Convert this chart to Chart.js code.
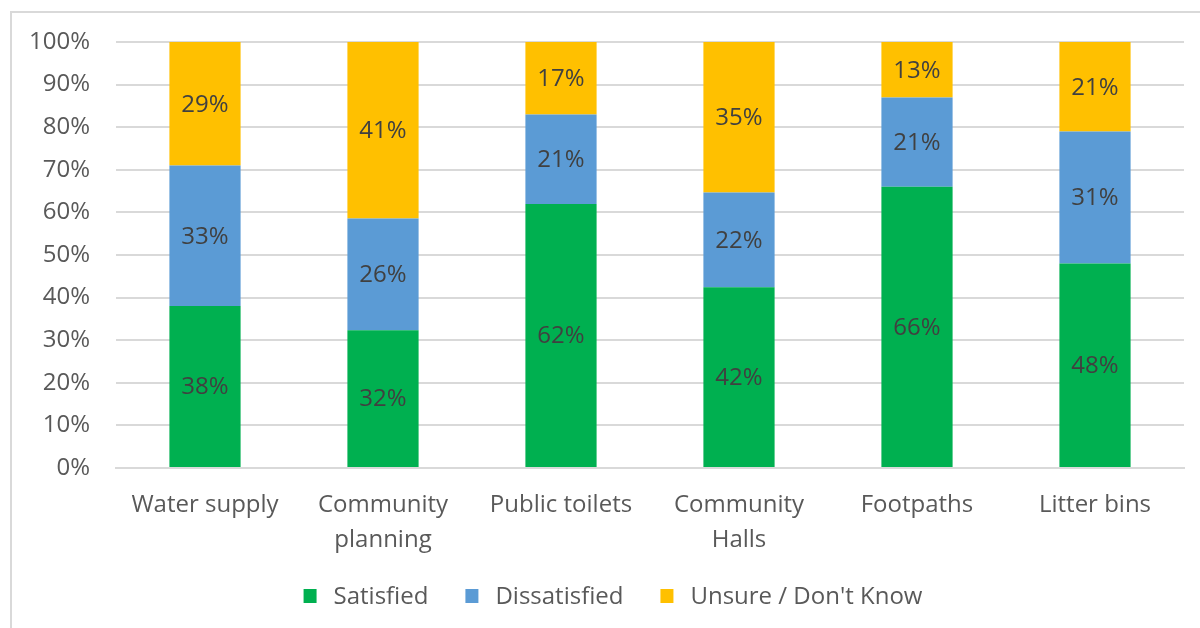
<!DOCTYPE html>
<html>
<head>
<meta charset="utf-8">
<script src="https://cdn.jsdelivr.net/npm/chart.js@4"></script>
<style>
  html, body { margin: 0; padding: 0; background: #fff; }
  #wrap { position: relative; width: 1200px; height: 628px; overflow: hidden; }
  #frame { position: absolute; left: 10px; top: 11px; width: 1200px; height: 640px; border: 2px solid #d9d9d9; box-sizing: border-box; }
  #chart { position: absolute; left: 0; top: 0; }
</style>
</head>
<body>
<div id="wrap">
  <div id="frame"></div>
  <canvas id="chart" width="1200" height="628"></canvas>
</div>
<script>
const categories = [["Water supply"], ["Community", "planning"], ["Public toilets"], ["Community", "Halls"], ["Footpaths"], ["Litter bins"]];
const satisfied = [38, 32, 62, 42, 66, 48];
const dissatisfied = [33, 26, 21, 22, 21, 31];
const unsure = [29, 41, 17, 35, 13, 21];
const yTicks = [0, 10, 20, 30, 40, 50, 60, 70, 80, 90, 100];

// 100% stacked: each column is scaled to its own total
const totals = satisfied.map((v, i) => v + dissatisfied[i] + unsure[i]);
const share = (arr) => arr.map((v, i) => (v / totals[i]) * 100);

const FONT = "'Open Sans', sans-serif";

const segmentLabels = {
  id: "segmentLabels",
  afterDatasetsDraw(chart) {
    const { ctx } = chart;
    ctx.save();
    ctx.font = `24px ${FONT}`;
    ctx.fillStyle = "#404040";
    ctx.textAlign = "center";
    ctx.textBaseline = "middle";
    chart.data.datasets.forEach((ds, di) => {
      chart.getDatasetMeta(di).data.forEach((bar, i) => {
        const y = (bar.y + bar.base) / 2;
        ctx.fillText(ds.raw[i] + "%", bar.x, y + 1);
      });
    });
    ctx.restore();
  },
};

// legend drawn by hand so the gaps match the original
const bottomLegend = {
  id: "bottomLegend",
  afterDraw(chart) {
    const { ctx } = chart;
    const box = 13, textGap = 17, itemGap = 37, cy = 596, cx = 613;
    ctx.save();
    ctx.font = `24px ${FONT}`;
    ctx.textBaseline = "middle";
    const items = chart.data.datasets.map((ds) => ({ ds, w: box + textGap + ctx.measureText(ds.label).width }));
    const total = items.reduce((s, it) => s + it.w, 0) + itemGap * (items.length - 1);
    let x = cx - total / 2;
    items.forEach(({ ds, w }) => {
      ctx.fillStyle = ds.backgroundColor;
      ctx.fillRect(x, cy - 7, box, 14);
      ctx.fillStyle = "#595959";
      ctx.fillText(ds.label, x + box + textGap, cy + 1);
      x += w + itemGap;
    });
    ctx.restore();
  },
};

new Chart(document.getElementById("chart"), {
  type: "bar",
  data: {
    labels: categories,
    datasets: [
      { label: "Satisfied", data: share(satisfied), raw: satisfied, backgroundColor: "#00b050" },
      { label: "Dissatisfied", data: share(dissatisfied), raw: dissatisfied, backgroundColor: "#5b9bd5" },
      { label: "Unsure / Don't Know", data: share(unsure), raw: unsure, backgroundColor: "#ffc000" },
    ],
  },
  options: {
    responsive: false,
    animation: false,
    barPercentage: 0.4,
    categoryPercentage: 1,
    layout: { padding: { top: 42, right: 16, left: 0, bottom: 60 } },
    plugins: {
      tooltip: { enabled: false },
      legend: { display: false },
    },
    scales: {
      x: {
        stacked: true,
        grid: { display: false, drawTicks: false },
        border: { color: "#d9d9d9", width: 2 },
        ticks: { font: { family: FONT, size: 24, lineHeight: 1.45 }, color: "#595959", padding: 20, maxRotation: 0 },
        afterFit: (scale) => { scale.height = 100; },
      },
      y: {
        stacked: true,
        min: 0,
        max: 100,
        afterBuildTicks: (scale) => { scale.ticks = yTicks.map((v) => ({ value: v })); },
        grid: { color: "#d9d9d9", lineWidth: 2, drawTicks: false },
        border: { display: false },
        ticks: { font: { family: FONT, size: 24 }, color: "#595959", padding: 26, callback: (v) => v + "%" },
        afterFit: (scale) => { scale.width = 116; },
      },
    },
  },
  plugins: [segmentLabels, bottomLegend],
});
</script>
</body>
</html>
